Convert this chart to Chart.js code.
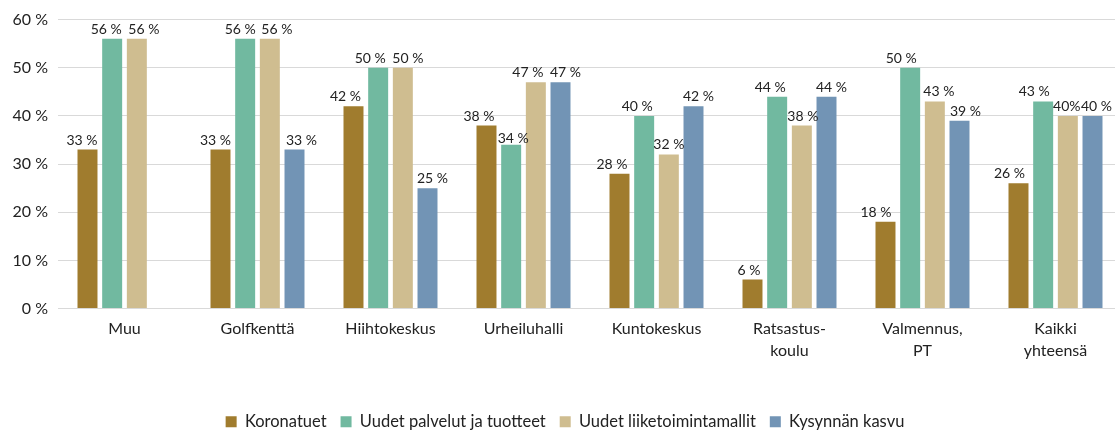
<!DOCTYPE html>
<html>
<head>
<meta charset="utf-8">
<script src="https://cdn.jsdelivr.net/npm/chart.js@4/dist/chart.umd.min.js"></script>
<style>
  html, body { margin: 0; padding: 0; background: #fff; overflow: hidden; }
  #wrap { width: 1115px; height: 430px; overflow: hidden; }
  canvas { display: block; }
</style>
</head>
<body>
<div id="wrap"><canvas id="c" width="1124" height="430"></canvas></div>
<script>
const categories = ["Muu", "Golfkenttä", "Hiihtokeskus", "Urheiluhalli", "Kuntokeskus",
  ["Ratsastus-", "koulu"], ["Valmennus,", "PT"], ["Kaikki", "yhteensä"]];
const seriesNames = ["Koronatuet", "Uudet palvelut ja tuotteet", "Uudet liiketoimintamallit", "Kysynnän kasvu"];
const koronatuet = [33, 33, 42, 38, 28, 6, 18, 26];
const uudetPalvelut = [56, 56, 50, 34, 40, 44, 50, 43];
const uudetMallit = [56, 56, 50, 47, 32, 38, 43, 40];
const kysynnanKasvu = [null, 33, 25, 47, 42, 44, 39, 40];
const yTicks = [0, 10, 20, 30, 40, 50, 60];
const colors = ["#A07C2E", "#71B9A0", "#CFBD90", "#7294B5"];
// value labels printed without the space before the percent sign: [series, category]
const compactLabels = [[2, 7]];

// hand-placed value labels: horizontal nudge (px) per series and category
const labelNudgeX = [
  [-5.5, -5, -8, -7.5, -7.5, -3.5, -9.5, -9],
  [-6, -5, -8, 2, -7, -7, -9, -9],
  [7, 7, 5, -8, 0, 1, 4, -1],
  [0, 7, 5, 5, 5, 5, 6, 4]
];
// vertical nudge (px, downwards): [series, category, dy]
const labelNudgeY = [[1, 3, 3]];

const FONT = "Lato, 'Noto Sans', sans-serif";

// writes each bar's value above it
const valueLabels = {
  id: "valueLabels",
  afterDatasetsDraw(chart) {
    const ctx = chart.ctx;
    ctx.save();
    ctx.font = "14px " + FONT;
    ctx.fillStyle = "#222";
    ctx.textAlign = "center";
    ctx.textBaseline = "alphabetic";
    chart.data.datasets.forEach((ds, i) => {
      const meta = chart.getDatasetMeta(i);
      meta.data.forEach((bar, j) => {
        const v = ds.data[j];
        if (v === null || v === undefined) return;
        const compact = compactLabels.some(([s, c]) => s === i && c === j);
        const dyEntry = labelNudgeY.find(([s, c]) => s === i && c === j);
        const dy = dyEntry ? dyEntry[2] : 0;
        ctx.fillText(v + (compact ? "%" : " %"), bar.x + labelNudgeX[i][j], bar.y - 5 + dy);
      });
    });
    ctx.restore();
  }
};

const series = [koronatuet, uudetPalvelut, uudetMallit, kysynnanKasvu];

new Chart(document.getElementById("c"), {
  type: "bar",
  data: {
    labels: categories,
    datasets: series.map((d, i) => ({
      label: seriesNames[i],
      data: d,
      backgroundColor: colors[i],
      borderWidth: 0,
      categoryPercentage: 0.742,
      barPercentage: 0.81
    }))
  },
  options: {
    responsive: false,
    animation: false,
    devicePixelRatio: 1,
    layout: { padding: { top: 16, right: 2, left: 8, bottom: -10 } },
    plugins: {
      legend: {
        position: "bottom",
        labels: {
          font: { family: FONT, size: 16.5 },
          color: "#222",
          boxWidth: 11,
          boxHeight: 11,
          padding: 14
        }
      },
      tooltip: { enabled: false }
    },
    scales: {
      x: {
        grid: { display: false, drawTicks: false },
        border: { display: false },
        ticks: {
          font: { family: FONT, size: 16, lineHeight: 1.375 },
          color: "#222",
          padding: 9,
          maxRotation: 0,
          autoSkip: false
        },
        afterFit(scale) { scale.height = 91; }
      },
      y: {
        min: 0,
        max: 60,
        afterBuildTicks(scale) { scale.ticks = yTicks.map(v => ({ value: v })); },
        afterFit(scale) { scale.width = 50; },
        grid: { color: "#d9d9d9", lineWidth: 1, drawTicks: false },
        border: { display: false },
        ticks: {
          font: { family: FONT, size: 16 },
          color: "#222",
          padding: 10,
          callback: v => v + " %"
        }
      }
    }
  },
  plugins: [valueLabels]
});
</script>
</body>
</html>
